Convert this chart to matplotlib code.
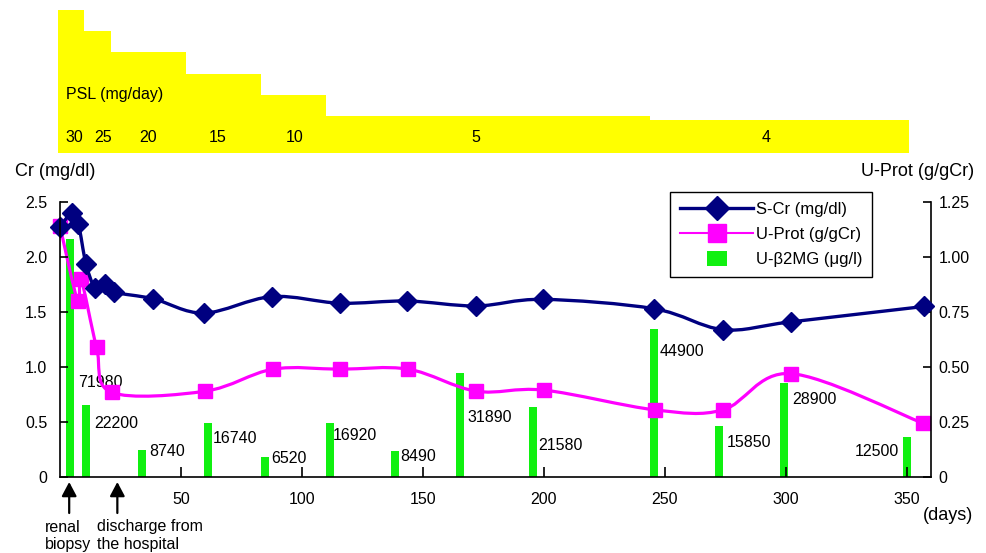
import numpy as np
import matplotlib
matplotlib.use("Agg")
import matplotlib.pyplot as plt
from matplotlib.path import Path
from matplotlib.patches import PathPatch, Rectangle
from matplotlib.lines import Line2D
from matplotlib.legend_handler import HandlerPatch

plt.rcParams['font.family'] = ['Liberation Sans', 'DejaVu Sans']

# Prednisolone schedule: period edges (days) and daily dose (mg/day)
psl_edges = [-1, 10, 21, 52, 83, 110, 244, 351]
psl_dose = [30, 25, 20, 15, 10, 5, 4]
psl_labels = ['30', '25', '20', '15', '10', '5', '4']

# Serum creatinine (mg/dl)
scr_day = [0, 4.8, 7.6, 10.7, 14.5, 18.6, 22.5, 38.6, 59.5, 87.5, 115.7, 143.5,
           172, 199.5, 245.5, 274, 302, 357]
scr_val = [2.27, 2.40, 2.30, 1.94, 1.72, 1.75, 1.68, 1.62, 1.49, 1.64, 1.58, 1.60,
           1.555, 1.615, 1.53, 1.34, 1.41, 1.55]

# Urinary protein (g/gCr)
uprot_day = [0, 7.3, 8.7, 15.1, 21.3, 60, 88, 115.7, 144, 172, 200, 246, 274, 302, 356.6]
uprot_val = [1.14, 0.80, 0.90, 0.59, 0.385, 0.39, 0.49, 0.49, 0.49, 0.39, 0.395,
             0.305, 0.305, 0.47, 0.245]

# Urinary beta2-microglobulin (ug/l)
b2mg_day = [4, 10.7, 34, 61, 84.6, 111.4, 138.6, 165.3, 195.5, 245.5, 272.5, 299.4, 350]
b2mg_val = [71980, 22200, 8740, 16740, 6520, 16920, 8490, 31890, 21580, 44900,
            15850, 28900, 12500]

x_ticks = [50, 100, 150, 200, 250, 300, 350]
cr_ticks = [0, 0.5, 1.0, 1.5, 2.0, 2.5]
cr_ticklabels = ['0', '0.5', '1.0', '1.5', '2.0', '2.5']
prot_ticks = [0, 0.25, 0.5, 0.75, 1.0, 1.25]
prot_ticklabels = ['0', '0.25', '0.50', '0.75', '1.00', '1.25']

# ---- layout / style ----
NAVY = '#000080'
MAGENTA = '#FF00FF'
GREEN = '#10F010'
YELLOW = '#FFFF00'
FS = 11.5
PX = 0.72  # points per pixel at 100 dpi

# bar value label offsets in pixels: (dx from bar centre, dy below bar top)
b2mg_label_off = [(8, 144), (8, 18), (6.5, 2), (5, 15.5), (6.3, 1.6), (3.5, 13.3),
                  (4.7, 6), (8, 45), (5, 38), (6, 22.7), (7.5, 16), (7.5, 17),
                  (-7.7, 13.6)]
psl_label_x = [6.0, 17.6, 36.2, 65.1, 96.9, 171.9, 291.7]


def smooth_path(x, y):
    """Cubic Bezier path through the points (Catmull-Rom style smoothing)."""
    x = np.asarray(x, float)
    y = np.asarray(y, float)
    n = len(x)
    verts = [(x[0], y[0])]
    codes = [Path.MOVETO]
    for i in range(n - 1):
        xp, yp = (x[i - 1], y[i - 1]) if i > 0 else (x[i], y[i])
        xn, yn = (x[i + 2], y[i + 2]) if i + 2 < n else (x[i + 1], y[i + 1])
        c1 = (x[i] + (x[i + 1] - xp) / 6, y[i] + (y[i + 1] - yp) / 6)
        c2 = (x[i + 1] - (xn - x[i]) / 6, y[i + 1] - (yn - y[i]) / 6)
        verts += [c1, c2, (x[i + 1], y[i + 1])]
        codes += [Path.CURVE4] * 3
    return Path(verts, codes)


W, H = 986, 553
fig = plt.figure(figsize=(W / 100, H / 100), dpi=100)

L, R = 60, 931
B, T = 477, 202
ax = fig.add_axes([L / W, 1 - B / H, (R - L) / W, (B - T) / H])
ax2 = ax.twinx()
ax3 = ax.twinx()

ax3.set_zorder(1)
ax2.set_zorder(2)
ax.set_zorder(3)
ax.patch.set_visible(False)
ax2.patch.set_visible(False)
ax3.patch.set_visible(False)

for a in (ax, ax2, ax3):
    a.set_xlim(0, 360)
    a.spines['top'].set_visible(False)

# bars (beta2MG)
ax3.set_ylim(650, 83000)
ax3.bar(b2mg_day, b2mg_val, width=3.3, color=GREEN, linewidth=0)
ax3.axis('off')
for d, v, (dx, dy) in zip(b2mg_day, b2mg_val, b2mg_label_off):
    ax3.annotate(f'{v}', xy=(d, v), xytext=(dx * PX, -dy * PX),
                 textcoords='offset points', ha='left' if dx > 0 else 'right',
                 va='center', fontsize=FS, annotation_clip=False)

# urinary protein
ax2.set_ylim(0, 1.25)
ax2.add_patch(PathPatch(smooth_path(uprot_day, uprot_val), fill=False,
                        edgecolor=MAGENTA, lw=2.3, capstyle='round', joinstyle='round'))
ax2.plot(uprot_day, uprot_val, ls='none', marker='s', ms=9.6, color=MAGENTA,
         clip_on=False)
ax2.set_yticks(prot_ticks)
ax2.set_yticklabels(prot_ticklabels)
ax2.tick_params(axis='y', direction='in', length=6, width=1.2, pad=5.5,
                labelsize=FS)
for s in ('left', 'bottom'):
    ax2.spines[s].set_visible(False)
ax2.spines['right'].set_linewidth(1.2)

# serum creatinine
ax.set_ylim(0, 2.5)
ax.add_patch(PathPatch(smooth_path(scr_day, scr_val), fill=False,
                       edgecolor=NAVY, lw=2.4, capstyle='round', joinstyle='round'))
ax.plot(scr_day, scr_val, ls='none', marker='D', ms=10.5, color=NAVY, clip_on=False)
ax.set_yticks(cr_ticks)
ax.set_yticklabels(cr_ticklabels)
ax.set_xticks(x_ticks)
ax.tick_params(axis='y', direction='in', length=6, width=1.2, pad=9, labelsize=FS)
ax.tick_params(axis='x', direction='in', length=7, width=1.2, pad=11, labelsize=FS)
ax.spines['right'].set_visible(False)
ax.spines['left'].set_linewidth(1.2)
ax.spines['bottom'].set_linewidth(1.2)

# event arrows under the time axis
for d in (3.8, 23.7):
    ax.annotate('', xy=(d, -5 / 275), xycoords=('data', 'axes fraction'),
                xytext=(d, -36 / 275), textcoords=('data', 'axes fraction'),
                arrowprops=dict(arrowstyle='-|>,head_length=0.85,head_width=0.45',
                                color='black', lw=1.6, shrinkA=0, shrinkB=0),
                annotation_clip=False)


def ftext(px, py, s, **kw):
    fig.text(px / W, 1 - py / H, s, **kw)


ftext(45, 527, 'renal', fontsize=FS, va='center', ha='left')
ftext(45, 545, 'biopsy', fontsize=FS, va='center', ha='left')
ftext(97, 527, 'discharge from', fontsize=FS, va='center', ha='left')
ftext(97, 545, 'the hospital', fontsize=FS, va='center', ha='left')
ftext(973, 515, '(days)', fontsize=13, va='center', ha='right')
ftext(15, 172, 'Cr (mg/dl)', fontsize=13, va='center', ha='left')
ftext(974, 171, 'U-Prot (g/gCr)', fontsize=13, va='center', ha='right')

# PSL dose panel
TB, TT = 153.3, 10
axt = fig.add_axes([L / W, 1 - TB / H, (R - L) / W, (TB - TT) / H])
axt.set_xlim(0, 360)
axt.set_ylim(-3.8, 30)
axt.stairs(psl_dose, psl_edges, baseline=-3.8, fill=True, color=YELLOW,
           linewidth=0, clip_on=False)
axt.axis('off')
axt.text((66 - L) / 2.42, (TB - 95) / (TB - TT), 'PSL (mg/day)', fontsize=FS,
         transform=axt.get_xaxis_transform(), va='center', ha='left')
for xl, lab in zip(psl_label_x, psl_labels):
    axt.text(xl, (TB - 137.5) / (TB - TT), lab, fontsize=FS,
             transform=axt.get_xaxis_transform(), va='center', ha='center')


# legend
class RectHandler(HandlerPatch):
    def create_artists(self, legend, orig_handle, xdescent, ydescent, width,
                       height, fontsize, trans):
        w, h = 20 * PX, 15 * PX
        cx = -xdescent + width / 2
        cy = -ydescent + height / 2
        p = Rectangle((cx - w / 2, cy - h / 2), w, h, facecolor=GREEN,
                      edgecolor='none', transform=trans)
        return [p]


h1 = Line2D([], [], color=NAVY, lw=2.4, marker='D', ms=12.5)
h2 = Line2D([], [], color=MAGENTA, lw=1.5, marker='s', ms=13.5)
h3 = Rectangle((0, 0), 1, 1, facecolor=GREEN)
leg = fig.legend([h1, h2, h3], ['S-Cr (mg/dl)', 'U-Prot (g/gCr)', 'U-β2MG (μg/l)'],
                 loc='upper left', bbox_to_anchor=(670 / W, 1 - 192 / H),
                 borderaxespad=0, fontsize=12, handlelength=4.4,
                 handletextpad=0.15, borderpad=0.6, labelspacing=0.6,
                 fancybox=False, framealpha=1, edgecolor='black',
                 handler_map={Rectangle: RectHandler()})
leg.get_frame().set_linewidth(1.0)

fig.savefig('out.png', dpi=100)
